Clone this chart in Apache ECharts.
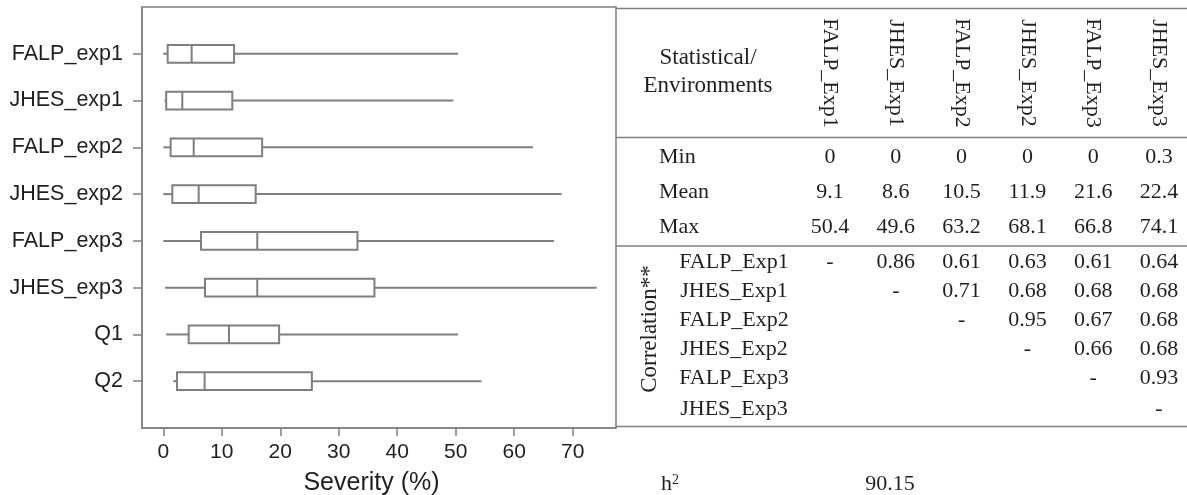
<!DOCTYPE html>
<html>
<head>
<meta charset="utf-8">
<script src="https://cdn.jsdelivr.net/npm/echarts@6/dist/echarts.min.js"></script>
<style>
  html, body { margin: 0; padding: 0; background: #fff; }
  #chart { width: 1187px; height: 495px; }
</style>
</head>
<body>
<div id="chart"></div>
<script>
// ---------- Box plot data (Severity %) ----------
const categories = ['FALP_exp1', 'JHES_exp1', 'FALP_exp2', 'JHES_exp2', 'FALP_exp3', 'JHES_exp3', 'Q1', 'Q2'];
const whiskerLow  = [0,    0.2,  0,    0,    0,     0.3,   0.5,   1.7];
const boxQ1       = [0.75, 0.5,  1.26, 1.54, 6.45,  7.13,  4.34,  2.35];
const boxMedian   = [4.85, 3.25, 5.2,  6.05, 16.07, 16.07, 11.23, 7.07];
const boxQ3       = [12.1, 11.8, 16.9, 15.8, 33.2,  36.1,  19.8,  25.4];
const whiskerHigh = [50.4, 49.6, 63.2, 68.1, 66.8,  74.1,  50.4,  54.4];
const xTicks = [0, 10, 20, 30, 40, 50, 60, 70];
const xTitle = 'Severity (%)';

// ---------- Table data ----------
const envColumns = ['FALP_Exp1', 'JHES_Exp1', 'FALP_Exp2', 'JHES_Exp2', 'FALP_Exp3', 'JHES_Exp3'];
const headerLines = ['Statistical/', 'Environments'];
const statRows = ['Min', 'Mean', 'Max'];
const minValues  = ['0', '0', '0', '0', '0', '0.3'];
const meanValues = ['9.1', '8.6', '10.5', '11.9', '21.6', '22.4'];
const maxValues  = ['50.4', '49.6', '63.2', '68.1', '66.8', '74.1'];
const corrLabel = 'Correlation**';
const corrRows = ['FALP_Exp1', 'JHES_Exp1', 'FALP_Exp2', 'JHES_Exp2', 'FALP_Exp3', 'JHES_Exp3'];
const corrFALP1 = ['-', '0.86', '0.61', '0.63', '0.61', '0.64'];
const corrJHES1 = ['', '-', '0.71', '0.68', '0.68', '0.68'];
const corrFALP2 = ['', '', '-', '0.95', '0.67', '0.68'];
const corrJHES2 = ['', '', '', '-', '0.66', '0.68'];
const corrFALP3 = ['', '', '', '', '-', '0.93'];
const corrJHES3 = ['', '', '', '', '', '-'];
const h2Base = 'h';
const h2Sup = '2';
const h2Value = '90.15';

// ---------- build ----------
const paddedCats = [''].concat(categories, ['']);
const boxData = categories.map((c, i) => [i + 1, whiskerLow[i], boxQ1[i], boxMedian[i], boxQ3[i], whiskerHigh[i]]);

const GRAY = '#7f7f7f';
const SANS = 'Liberation Sans, Arial, sans-serif';
const SERIF = 'Liberation Serif, Times New Roman, serif';
const TXT = '#1f1f1f';

function renderBox(params, api) {
  const yi = api.value(0);
  const lo = api.coord([api.value(1), yi]);
  const b1 = api.coord([api.value(2), yi]);
  const md = api.coord([api.value(3), yi]);
  const b3 = api.coord([api.value(4), yi]);
  const hi = api.coord([api.value(5), yi]);
  const band = api.size([0, 1])[1];
  const h = band * 0.38;
  const st = { stroke: GRAY, lineWidth: 2, fill: null };
  return {
    type: 'group',
    children: [
      { type: 'line', shape: { x1: lo[0], y1: lo[1], x2: b1[0], y2: b1[1] }, style: st },
      { type: 'line', shape: { x1: b3[0], y1: b3[1], x2: hi[0], y2: hi[1] }, style: st },
      { type: 'rect', shape: { x: b1[0], y: b1[1] - h / 2, width: b3[0] - b1[0], height: h }, style: { stroke: GRAY, lineWidth: 2, fill: '#fff' } },
      { type: 'line', shape: { x1: md[0], y1: md[1] - h / 2, x2: md[0], y2: md[1] + h / 2 }, style: st }
    ]
  };
}

// Table layout
const colX = [830, 895.8, 961.6, 1027.4, 1093.2, 1159];
const TL = 616, TR = 1187;
const graphics = [];
function txt(x, y, text, opts) {
  graphics.push(Object.assign({
    type: 'text', x: x, y: y, silent: true,
    style: Object.assign({ text: text, font: '22px ' + SERIF, fill: TXT, align: 'center', verticalAlign: 'middle' }, opts && opts.style || {})
  }, opts && opts.el || {}));
}
function hline(y) {
  graphics.push({ type: 'line', silent: true, shape: { x1: TL, y1: y, x2: TR, y2: y }, style: { stroke: GRAY, lineWidth: 1.5 } });
}
hline(8.5); hline(137.5); hline(246); hline(426.5);

txt(708, 58, headerLines[0], { style: { font: '23px ' + SERIF } });
txt(708, 86, headerLines[1], { style: { font: '23px ' + SERIF } });
envColumns.forEach((c, i) => txt(colX[i], 73, c, { el: { rotation: -Math.PI / 2 } }));

const statY = [157, 192.5, 227.5];
const statVals = [minValues, meanValues, maxValues];
statRows.forEach((r, k) => {
  txt(659, statY[k], r, { style: { align: 'left' } });
  statVals[k].forEach((v, i) => txt(colX[i], statY[k], v));
});

const corrY = [262, 291, 320, 349, 378, 409];
const corrVals = [corrFALP1, corrJHES1, corrFALP2, corrJHES2, corrFALP3, corrJHES3];
corrRows.forEach((r, k) => {
  txt(734, corrY[k], r);
  corrVals[k].forEach((v, i) => { if (v) txt(colX[i], corrY[k], v); });
});
txt(650, 329, corrLabel, { el: { rotation: Math.PI / 2 }, style: { font: '23px ' + SERIF } });

graphics.push({
  type: 'text', x: 661, y: 484, silent: true,
  style: {
    text: '{b|' + h2Base + '}{s|' + h2Sup + '}',
    align: 'left', verticalAlign: 'middle', fill: TXT,
    rich: {
      b: { fontSize: 22, fontFamily: SERIF, fill: TXT, verticalAlign: 'bottom' },
      s: { fontSize: 14, fontFamily: SERIF, fill: TXT, verticalAlign: 'top', padding: [0, 0, 8, 0] }
    }
  }
});
txt(890, 484, h2Value);

const chart = echarts.init(document.getElementById('chart'), null, { renderer: 'canvas' });
chart.setOption({
  animation: false,
  backgroundColor: '#fff',
  grid: {
    left: 142, right: 1187 - 616, top: 7, bottom: 495 - 428,
    outerBoundsMode: 'none', containLabel: false,
    show: true, borderColor: GRAY, borderWidth: 1.5, backgroundColor: 'transparent'
  },
  xAxis: {
    type: 'value',
    min: -3.64, max: 77.4,
    splitLine: { show: false },
    axisLine: { show: true, onZero: false, lineStyle: { color: GRAY, width: 1.5 } },
    axisTick: { show: true, length: 8, customValues: xTicks, lineStyle: { color: GRAY, width: 1.5 } },
    axisLabel: { customValues: xTicks, margin: 14, fontSize: 21, fontFamily: SANS, color: TXT },
    name: xTitle,
    nameLocation: 'middle',
    nameGap: 43,
    nameTextStyle: { fontSize: 25, fontFamily: SANS, color: TXT, padding: [0, 15, 0, 0] }
  },
  yAxis: {
    type: 'category',
    data: paddedCats,
    inverse: true,
    boundaryGap: false,
    splitLine: { show: false },
    axisLine: { show: true, onZero: false, lineStyle: { color: GRAY, width: 1.5 } },
    axisTick: { show: true, length: 9, interval: (idx, val) => val !== '', lineStyle: { color: GRAY, width: 1.5 } },
    axisLabel: { interval: (idx, val) => val !== '', margin: 19, fontSize: 21.5, fontFamily: SANS, color: TXT }
  },
  series: [{
    type: 'custom',
    renderItem: renderBox,
    encode: { x: [1, 2, 3, 4, 5], y: 0 },
    data: boxData,
    silent: true
  }],
  graphic: graphics
});
</script>
</body>
</html>
